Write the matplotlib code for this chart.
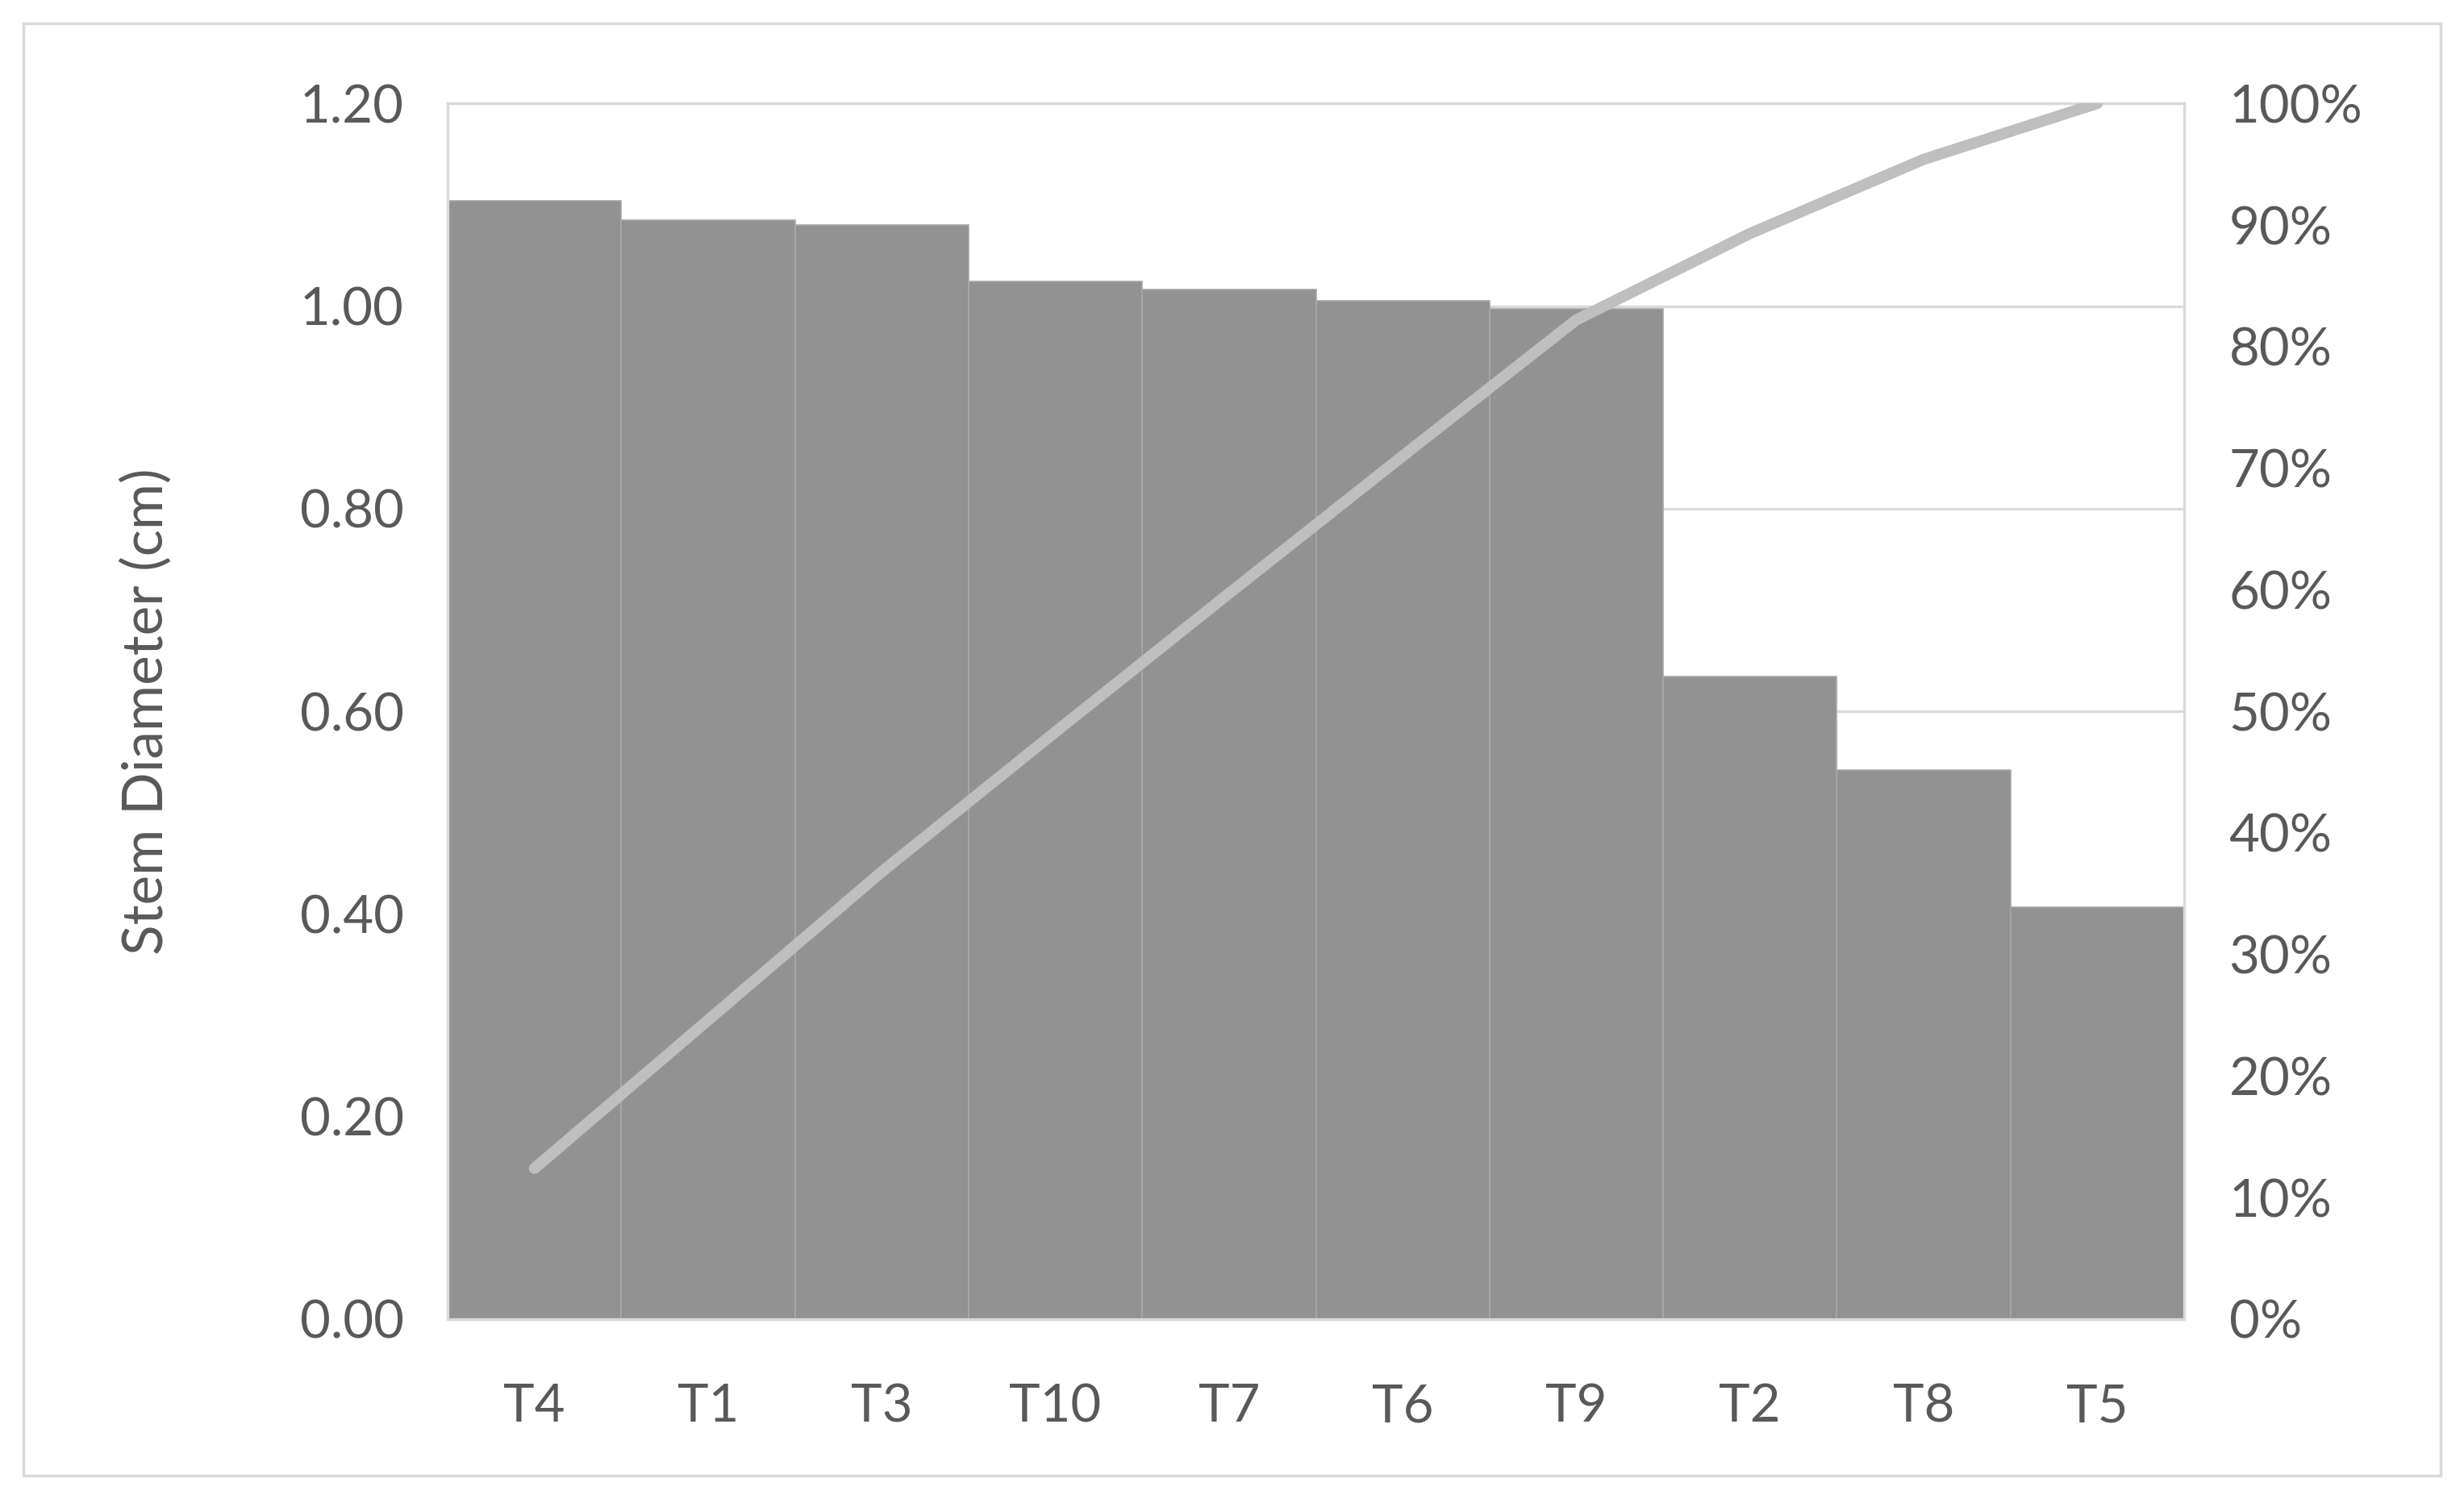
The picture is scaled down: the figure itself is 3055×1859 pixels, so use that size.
import numpy as np
import matplotlib
matplotlib.use('Agg')
import matplotlib.pyplot as plt
from matplotlib.patches import Rectangle
from matplotlib.ticker import FuncFormatter

# values (Pareto chart)
categories = ['T4', 'T1', 'T3', 'T10', 'T7', 'T6', 'T9', 'T2', 'T8', 'T5']
diameters = [1.104, 1.085, 1.080, 1.024, 1.016, 1.005, 0.997, 0.634, 0.542, 0.407]
cumulative_pct = [12.4, 24.6, 36.8, 48.3, 59.7, 71.0, 82.2, 89.3, 95.4, 100.0]

TXT = '#595959'
GRID = '#d9d9d9'

plt.rcParams['font.family'] = ['Lato', 'DejaVu Sans']

fig = plt.figure(figsize=(30.55, 18.59), dpi=100)
fig.patch.set_facecolor('white')
fig.patches.append(Rectangle((29 / 3055, 1 - 1830 / 1859), (3026 - 29) / 3055, (1830 - 29) / 1859,
                             transform=fig.transFigure, fill=False, edgecolor=GRID, linewidth=2.5))

ax = fig.add_axes([555 / 3055, 1 - 1636 / 1859, (2708 - 555) / 3055, (1636 - 128.3) / 1859])
x = np.arange(len(categories))
ax.bar(x, diameters, width=1.0, color='#929292', edgecolor='#a8a8a8', linewidth=1.2, zorder=2)
ax.set_xlim(-0.5, len(categories) - 0.5)
ax.set_ylim(0, 1.2)
ax.set_yticks(np.arange(0, 1.21, 0.2))
ax.yaxis.set_major_formatter(FuncFormatter(lambda v, p: '%.2f' % v))
ax.set_xticks(x)
ax.set_xticklabels(categories)
ax.grid(axis='y', color=GRID, linewidth=2.3, zorder=0)
ax.set_axisbelow(True)
for s in ax.spines.values():
    s.set_color(GRID)
    s.set_linewidth(2.3)
ax.tick_params(axis='y', length=0, pad=39, labelsize=47, colors=TXT)
ax.tick_params(axis='x', length=0, pad=57, labelsize=47, colors=TXT)
ax.text(-0.1737, 0.5, 'Stem Diameter (cm)', transform=ax.transAxes, rotation=90,
        ha='center', va='center', fontsize=50, color=TXT)

ax2 = ax.twinx()
ax2.plot(x, np.array(cumulative_pct) / 100, color='#bfbfbf', linewidth=10,
         solid_capstyle='round', solid_joinstyle='round', zorder=3)
ax2.set_ylim(0, 1)
ax2.set_yticks(np.arange(0, 1.01, 0.1))
ax2.yaxis.set_major_formatter(FuncFormatter(lambda v, p: '%d%%' % round(v * 100)))
ax2.tick_params(axis='y', length=0, pad=40, labelsize=47, colors=TXT)
for s in ax2.spines.values():
    s.set_color(GRID)
    s.set_linewidth(2.3)

fig.savefig('out.png', dpi=100)
